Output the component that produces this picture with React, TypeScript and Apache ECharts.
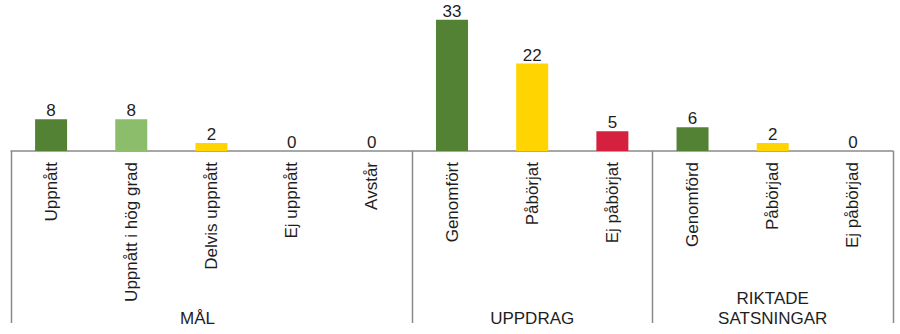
import React, { useEffect, useRef } from "react";
import * as echarts from "echarts";

const categories = [
  "Uppnått",
  "Uppnått i hög grad",
  "Delvis uppnått",
  "Ej uppnått",
  "Avstår",
  "Genomfört",
  "Påbörjat",
  "Ej påbörjat",
  "Genomförd",
  "Påbörjad",
  "Ej påbörjad",
];
const values = [8, 8, 2, 0, 0, 33, 22, 5, 6, 2, 0];
const groupNames = ["MÅL", "UPPDRAG", "RIKTADE\nSATSNINGAR"];
const groupSizes = [5, 3, 3];

const DARK_GREEN = "#548235";
const LIGHT_GREEN = "#8cbd6b";
const YELLOW = "#ffd400";
const RED = "#d5213f";
const barColors = [
  DARK_GREEN, LIGHT_GREEN, YELLOW, RED, RED,
  DARK_GREEN, YELLOW, RED,
  DARK_GREEN, YELLOW, RED,
];
const groupLabelShift = [-14, 0, 0];

const FONT = "'Liberation Sans', Arial, sans-serif";
const TEXT = "#1e1e1e";
const LINE = "#8a8a8a";

export default function App() {
  const ref = useRef<HTMLDivElement>(null);
  useEffect(() => {
    if (!ref.current) return;
    const chart = echarts.init(ref.current, null, { renderer: "svg" });
    const gridTop = 0;
    const gridHeight = 151;
    const option: any = {
      animation: false,
      grid: { left: 11, right: 7, top: gridTop, height: gridHeight },
      xAxis: {
        type: "category",
        data: categories,
        axisLine: { show: true, lineStyle: { color: LINE, width: 1.5 } },
        axisTick: { show: false },
        axisLabel: {
          rotate: 90,
          interval: 0,
          margin: 11,
          fontSize: 17,
          fontFamily: FONT,
          color: TEXT,
        },
      },
      yAxis: {
        type: "value",
        min: 0,
        max: 38,
        show: false,
        splitLine: { show: false },
      },
      series: [
        {
          type: "bar",
          barWidth: 32,
          data: values.map((v, i) => ({ value: v, itemStyle: { color: barColors[i] } })),
          label: {
            show: true,
            position: "top",
            distance: 0,
            fontSize: 17,
            fontFamily: FONT,
            color: TEXT,
          },
        },
      ],
    };
    chart.setOption(option);

    const c0 = chart.convertToPixel({ xAxisIndex: 0 }, categories[0]) as number;
    const c1 = chart.convertToPixel({ xAxisIndex: 0 }, categories[1]) as number;
    const band = c1 - c0;
    const left = c0 - band / 2;
    const axisY = chart.convertToPixel({ yAxisIndex: 0 }, 0) as number;
    const bottomY = 323;
    const graphics: any[] = [];
    let start = 0;
    const boundaries = [0];
    groupSizes.forEach((n) => {
      start += n;
      boundaries.push(start);
    });
    boundaries.forEach((b) => {
      const x = Math.round(left + b * band) + 0.5;
      graphics.push({
        type: "line",
        shape: { x1: x, y1: axisY, x2: x, y2: bottomY },
        style: { stroke: LINE, lineWidth: 1.5 },
        silent: true,
      });
    });
    groupNames.forEach((name, gi) => {
      const a = boundaries[gi];
      const b = boundaries[gi + 1];
      const cx = left + ((a + b) / 2) * band + groupLabelShift[gi];
      graphics.push({
        type: "text",
        x: cx,
        y: 328,
        style: {
          text: name,
          align: "center",
          verticalAlign: "bottom",
          fontSize: 17,
          lineHeight: 20,
          fontFamily: FONT,
          fill: TEXT,
        },
        silent: true,
      });
    });
    chart.setOption({ graphic: graphics });
    return () => chart.dispose();
  }, []);
  return (
    <div
      ref={ref}
      style={{ position: "fixed", left: 0, top: 0, width: 900, height: 334, background: "#fff" }}
    />
  );
}
